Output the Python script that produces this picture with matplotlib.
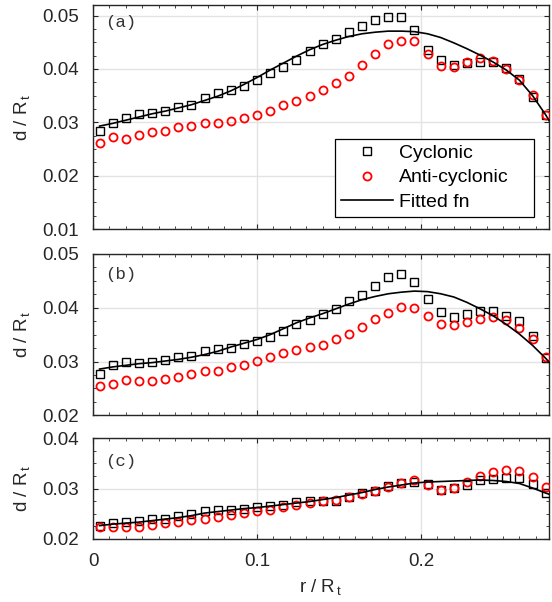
import numpy as np
import matplotlib
matplotlib.use("Agg")
import matplotlib.pyplot as plt
import matplotlib as mpl
from matplotlib.ticker import MultipleLocator

# --- plot style (MATLAB-like) ---
config = {
    "font.family": ["Liberation Sans", "DejaVu Sans"], "font.size": 13,
    "mathtext.fontset": "custom", "mathtext.rm": "Liberation Sans",
    "axes.linewidth": 1.0, "axes.edgecolor": "#262626",
    "xtick.direction": "in", "ytick.direction": "in",
    "xtick.color": "#262626", "ytick.color": "#262626",
    "xtick.major.size": 3.5, "ytick.major.size": 3.5,
    "xtick.minor.size": 2, "ytick.minor.size": 2,
    "xtick.top": True, "ytick.right": True,
}
mpl.rcParams.update(config)

# bin centres r / R_t
r = [0.004 + 0.008 * i for i in range(35)]

# panel (a)
cyc_a = [0.0284, 0.0299, 0.0308, 0.0315, 0.0318, 0.0321, 0.0328, 0.0333, 0.0345, 0.0355,
         0.0360, 0.0368, 0.0379, 0.0392, 0.0404, 0.0417, 0.0434, 0.0447, 0.0456, 0.0469,
         0.0480, 0.0492, 0.0497, 0.0497, 0.0473, 0.0436, 0.0417, 0.0407, 0.0411, 0.0414,
         0.0414, 0.0401, 0.0381, 0.0347, 0.0314]
anti_a = [0.0261, 0.0272, 0.0269, 0.0277, 0.0281, 0.0284, 0.0291, 0.0294, 0.0299, 0.0299,
          0.0303, 0.0308, 0.0313, 0.0321, 0.0333, 0.0340, 0.0350, 0.0361, 0.0374, 0.0387,
          0.0407, 0.0428, 0.0446, 0.0453, 0.0453, 0.0429, 0.0406, 0.0404, 0.0414, 0.0420,
          0.0415, 0.0400, 0.0379, 0.0351, 0.0314]
fit_a = [0.0293, 0.0298, 0.0304, 0.0310, 0.0316, 0.0321, 0.0327, 0.0333, 0.0341, 0.0349,
         0.0359, 0.0371, 0.0384, 0.0398, 0.0411, 0.0424, 0.0436, 0.0446, 0.0454, 0.0461,
         0.0466, 0.0469, 0.0471, 0.0471, 0.0470, 0.0466, 0.0459, 0.0449, 0.0438, 0.0426,
         0.0413, 0.0398, 0.0379, 0.0350, 0.0314]

# panel (b)
cyc_b = [0.0276, 0.0293, 0.0300, 0.0297, 0.0300, 0.0302, 0.0308, 0.0310, 0.0320, 0.0323,
         0.0326, 0.0333, 0.0339, 0.0346, 0.0356, 0.0370, 0.0377, 0.0389, 0.0398, 0.0413,
         0.0424, 0.0440, 0.0457, 0.0462, 0.0447, 0.0416, 0.0392, 0.0382, 0.0388, 0.0394,
         0.0394, 0.0385, 0.0376, 0.0347, 0.0306]
anti_b = [0.0254, 0.0259, 0.0266, 0.0264, 0.0264, 0.0267, 0.0272, 0.0276, 0.0283, 0.0283,
          0.0289, 0.0293, 0.0301, 0.0308, 0.0315, 0.0322, 0.0327, 0.0331, 0.0341, 0.0351,
          0.0365, 0.0380, 0.0390, 0.0401, 0.0399, 0.0385, 0.0370, 0.0368, 0.0373, 0.0380,
          0.0382, 0.0377, 0.0363, 0.0342, 0.0308]
fit_b = [0.0286, 0.0290, 0.0293, 0.0296, 0.0298, 0.0301, 0.0304, 0.0308, 0.0313, 0.0319,
         0.0327, 0.0334, 0.0341, 0.0350, 0.0361, 0.0372, 0.0381, 0.0389, 0.0398, 0.0407,
         0.0415, 0.0421, 0.0426, 0.0429, 0.0431, 0.0430, 0.0426, 0.0420, 0.0410, 0.0398,
         0.0385, 0.0369, 0.0351, 0.0330, 0.0306]

# panel (c)
cyc_c = [0.0226, 0.0232, 0.0234, 0.0235, 0.0240, 0.0240, 0.0245, 0.0250, 0.0256, 0.0257,
         0.0258, 0.0260, 0.0263, 0.0265, 0.0268, 0.0273, 0.0275, 0.0275, 0.0276, 0.0284,
         0.0291, 0.0295, 0.0305, 0.0312, 0.0314, 0.0309, 0.0297, 0.0301, 0.0307, 0.0316,
         0.0319, 0.0320, 0.0321, 0.0309, 0.0291]
anti_c = [0.0223, 0.0224, 0.0224, 0.0224, 0.0228, 0.0232, 0.0234, 0.0237, 0.0239, 0.0244,
          0.0248, 0.0252, 0.0255, 0.0257, 0.0263, 0.0267, 0.0271, 0.0275, 0.0277, 0.0283,
          0.0289, 0.0295, 0.0303, 0.0312, 0.0316, 0.0307, 0.0298, 0.0302, 0.0314, 0.0324,
          0.0333, 0.0337, 0.0335, 0.0323, 0.0303]
fit_c = [0.0226, 0.0229, 0.0231, 0.0233, 0.0236, 0.0239, 0.0242, 0.0246, 0.0251, 0.0254,
         0.0257, 0.0260, 0.0262, 0.0265, 0.0268, 0.0271, 0.0274, 0.0278, 0.0282, 0.0287,
         0.0292, 0.0298, 0.0303, 0.0307, 0.0311, 0.0313, 0.0314, 0.0315, 0.0316, 0.0317,
         0.0316, 0.0314, 0.0310, 0.0301, 0.0291]

# fitted curve continues to the right edge
r_end = 0.2795
fit_end = {"a": 0.0296, "b": 0.0294, "c": 0.0287}

panels = [
    ("a", cyc_a, anti_a, fit_a, (0.01, 0.052), [0.01, 0.02, 0.03, 0.04, 0.05]),
    ("b", cyc_b, anti_b, fit_b, (0.02, 0.05), [0.02, 0.03, 0.04, 0.05]),
    ("c", cyc_c, anti_c, fit_c, (0.02, 0.04), [0.02, 0.03, 0.04]),
]
rects = [
    [0.1685, 0.6196, 0.826, 0.3721],
    [0.1685, 0.3101, 0.826, 0.2680],
    [0.1685, 0.1052, 0.826, 0.1666],
]
tag_y = [0.924, 0.873, 0.765]

fig = plt.figure(figsize=(5.52, 6.02), dpi=100)

for k, (tag, cyc, anti, fit, ylim, yt) in enumerate(panels):
    ax = fig.add_axes(rects[k])
    ax.grid(True, color="#e3e3e3", lw=1.0, zorder=0)
    ax.set_axisbelow(True)

    ax.plot(r, cyc, ls="none", marker="s", ms=5.3, mfc="none", mec="black",
            mew=1.0, label="Cyclonic", zorder=3)
    ax.plot(r, anti, ls="none", marker="o", ms=5.8, mfc="none", mec="#ff0000",
            mew=1.3, label="Anti-cyclonic", zorder=3)
    ax.plot(r + [r_end], fit + [fit_end[tag]], color="black", lw=1.2,
            label="Fitted fn", zorder=4)

    ax.set_xlim(0, 0.278)
    ax.set_ylim(*ylim)
    ax.set_yticks(yt)
    ax.set_yticklabels([f"{v:.2f}" for v in yt])
    ax.set_xticks([0, 0.1, 0.2])
    ax.xaxis.set_minor_locator(MultipleLocator(0.01))
    ax.yaxis.set_minor_locator(MultipleLocator(0.0025))
    ax.tick_params(which="both", top=True, right=True, labelsize=13.5)
    ax.tick_params(axis="y", which="major", pad=10)
    ax.tick_params(axis="x", which="major", pad=10)
    ax.set_ylabel(r"d / R$_{\,\mathrm{t}}$", fontsize=13.5, color="#262626", labelpad=7)

    ax.text(0.026, tag_y[k], f"({tag})", transform=ax.transAxes, va="center",
            ha="left", fontsize=12.5, family="Liberation Mono", color="#333333")

    if tag == "c":
        ax.set_xticklabels(["0", "0.1", "0.2"])
        ax.set_xlabel(r"r / R$_{\,\mathrm{t}}$", fontsize=13.5, color="#262626", labelpad=6)
    else:
        ax.set_xticklabels([])

    if tag == "a":
        leg = ax.legend(loc="lower left", bbox_to_anchor=(0.531, 0.055, 0.436, 0.35),
                        mode="expand", borderaxespad=0, fancybox=False, framealpha=1,
                        edgecolor="black", fontsize=14, handlelength=2.7,
                        handletextpad=0.3, labelspacing=0.35, borderpad=0.3)
        leg.get_frame().set_linewidth(0.9)

fig.savefig("out.png", dpi=100)
